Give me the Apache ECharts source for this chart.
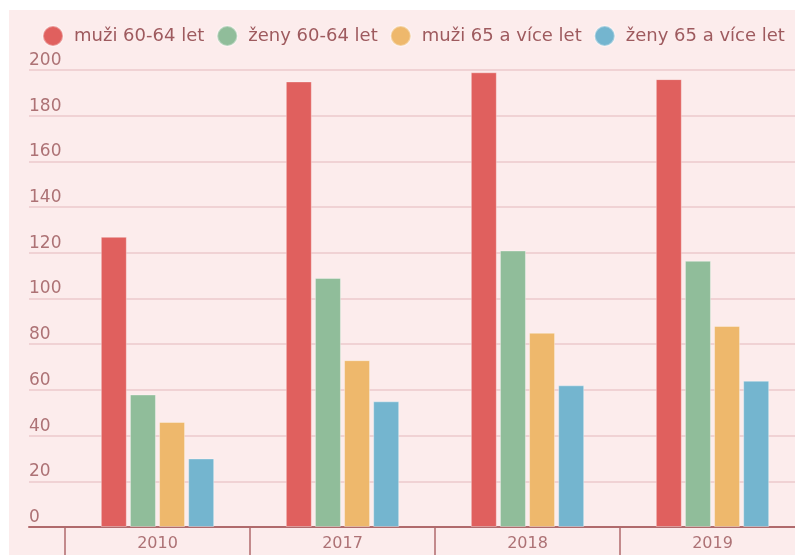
<!DOCTYPE html>
<html><head><meta charset="utf-8">
<style>html,body{margin:0;padding:0;background:#fff;}#c{position:absolute;left:9px;top:10px;width:786px;height:545px;}</style>
<script src="https://cdn.jsdelivr.net/npm/echarts@6/dist/echarts.min.js"></script>
</head><body><div id="c"></div>
<script>
const categories = ['2010', '2017', '2018', '2019'];
const seriesNames = ['muži 60-64 let', 'ženy 60-64 let', 'muži 65 a více let', 'ženy 65 a více let'];
const muzi6064 = [127, 195, 199, 196];
const zeny6064 = [58, 109, 121, 116.5];
const muzi65 = [46, 73, 85, 88];
const zeny65 = [30, 55, 62, 64];
const colors = ['#e0605e', '#90bd9a', '#eeb86c', '#74b5cf'];
const yMin = 0, yMax = 200, yStep = 20;

const chart = echarts.init(document.getElementById('c'));
const FONT = 'DejaVu Sans';
const txt = '#ad7275';
const values = [muzi6064, zeny6064, muzi65, zeny65];
chart.setOption({
  backgroundColor: '#fcecec',
  animation: false,
  color: colors,
  textStyle: { fontFamily: FONT },
  legend: {
    left: 33, top: 15, padding: 0, width: 900, icon: 'circle', itemWidth: 20, itemHeight: 20, itemGap: 12,
    textStyle: { color: '#9e5a5e', fontSize: 18, fontFamily: FONT, padding: [0, 0, 0, 6] },
    data: seriesNames
  },
  grid: [
    { left: 20, right: 0, top: 60, bottom: 28, outerBoundsMode: 'none' },
    { left: 56, width: 740, top: 60, bottom: 28, outerBoundsMode: 'none' }
  ],
  xAxis: [
    { gridIndex: 0, type: 'value', min: 0, max: 1, axisLine: { show: true, onZero: false, lineStyle: { color: '#b06a6c', width: 2 } },
      axisTick: { show: false }, axisLabel: { show: false }, splitLine: { show: false } },
    { gridIndex: 1, type: 'category', data: categories, axisLine: { show: false },
      axisTick: { show: true, length: 30, lineStyle: { color: '#b06a6c', width: 1.5 } },
      axisLabel: { color: txt, fontSize: 16, margin: 9, fontFamily: FONT } }
  ],
  yAxis: [
    { gridIndex: 0, type: 'value', min: yMin, max: yMax, interval: yStep,
      axisLine: { show: false }, axisTick: { show: false },
      axisLabel: { inside: true, margin: 0, verticalAlign: 'bottom', padding: [0, 0, 1, 0], color: txt, fontSize: 17, fontFamily: FONT },
      splitLine: { lineStyle: { color: '#f0d2d4', width: 2 } } },
    { gridIndex: 1, type: 'value', min: yMin, max: yMax, interval: yStep, show: false, splitLine: { show: false } }
  ],
  series: seriesNames.map((n, i) => ({
    name: n, type: 'bar', xAxisIndex: 1, yAxisIndex: 1, data: values[i],
    barWidth: 26, barGap: '12%',
    itemStyle: { color: colors[i], borderColor: 'rgba(255,255,255,0.35)', borderWidth: 1 }
  }))
});
</script></body></html>
